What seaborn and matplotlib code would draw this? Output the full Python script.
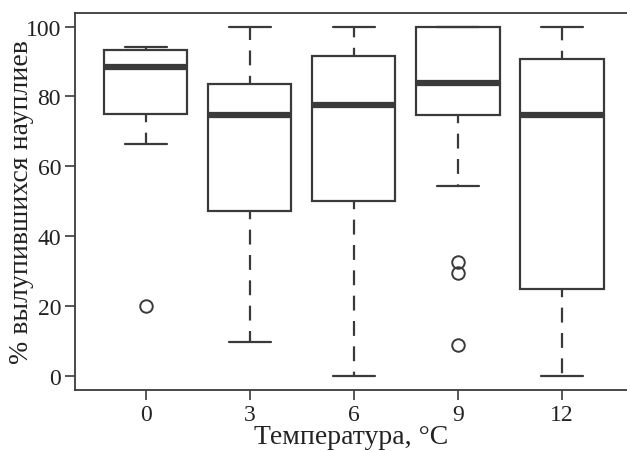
import numpy as np
import pandas as pd
import matplotlib
matplotlib.use("Agg")
import matplotlib.pyplot as plt
import seaborn as sns

# Temperature groups (°C) and hatching percentages per group
temperatures = ["0", "3", "6", "9", "12"]
hatch_t0 = [19.9, 66.5, 74.9, 80.0, 88.4, 90.0, 93.3, 94.0, 94.1]
hatch_t3 = [9.7, 30.0, 47.1, 60.0, 74.8, 80.0, 83.6, 90.0, 100.0]
hatch_t6 = [0.0, 25.0, 50.0, 65.0, 77.6, 85.0, 91.5, 95.0, 100.0]
hatch_t9 = [8.8, 29.4, 32.6, 54.3, 74.8, 75.0, 78.0, 80.0, 83.8, 90.0, 95.0,
            100.0, 100.0, 100.0, 100.0, 100.0, 100.0]
hatch_t12 = [0.0, 10.0, 24.8, 50.0, 74.8, 85.0, 90.7, 95.0, 100.0]

groups = [hatch_t0, hatch_t3, hatch_t6, hatch_t9, hatch_t12]
df = pd.DataFrame({
    "temp": np.concatenate([[t] * len(g) for t, g in zip(temperatures, groups)]),
    "pct": np.concatenate(groups),
})

sns.set_theme(style="white")
plt.rcParams["font.family"] = ["Liberation Serif", "DejaVu Serif"]

lc = "#3a3a3a"
fig = plt.figure(figsize=(6.27, 4.52), dpi=100)
ax = fig.add_axes([0.1196, 0.1356, 0.8804, 0.8328])

sns.boxplot(
    data=df, x="temp", y="pct", order=temperatures, ax=ax,
    color="white", linecolor=lc, linewidth=1.6, width=0.8, whis=1.5,
    whiskerprops=dict(linestyle=(3, (6.7, 4.7)), linewidth=1.6, color=lc),
    capprops=dict(linewidth=1.6, color=lc),
    medianprops=dict(linewidth=4.5, color=lc),
    flierprops=dict(marker="o", markersize=9, markerfacecolor="none",
                    markeredgecolor=lc, markeredgewidth=1.4),
)

ax.set_xlim(-0.68, 4.625)
ax.set_ylim(-4, 103.8)
ax.set_yticks([0, 20, 40, 60, 80, 100])
ax.set_xlabel("Температура, °C", fontsize=20, color="#222222")
ax.set_ylabel("% вылупившихся науплиев", fontsize=20, color="#222222")
ax.yaxis.set_label_coords(-0.074, 0.5)
ax.xaxis.set_label_coords(0.5, -0.09)
ax.xaxis.label.set_verticalalignment("top")
ax.yaxis.label.set_verticalalignment("bottom")
ax.tick_params(axis="both", which="both", direction="out", length=7, width=1.2,
               color=lc, labelsize=17, labelcolor="#222222", left=True, bottom=True,
               pad=3)
for side in ["left", "top", "bottom"]:
    ax.spines[side].set_color(lc)
    ax.spines[side].set_linewidth(1.3)
ax.spines["right"].set_visible(False)

fig.savefig("out.png", dpi=100)
